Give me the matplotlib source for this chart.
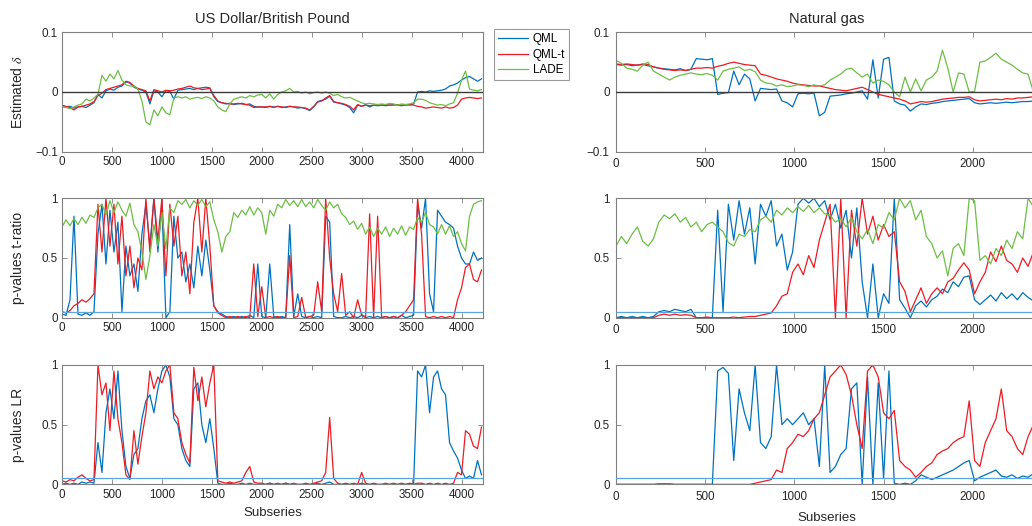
"""
Estimated delta and p-values for two subseries panels (USD/GBP and natural gas).
"""

import matplotlib

matplotlib.use("Agg")
import matplotlib.pyplot as plt
import numpy as np

plt.rcParams["font.family"] = ["Liberation Sans", "DejaVu Sans"]
plt.rcParams["mathtext.fontset"] = "stix"

# ---------------------------------------------------------------- data
# subseries index grids (values read every 40 / 30 subseries)
usd_x = np.arange(0, 4201, 40)
gas_x = np.arange(0, 2371, 30)

# US Dollar / British Pound: estimated delta
usd_delta_qml = [
    -0.022, -0.025, -0.024, -0.027, -0.025, -0.024, -0.026, -0.022, -0.018, -0.004,
    -0.01, 0.002, 0.005, 0.003, 0.008, 0.01, 0.017, 0.015, 0.008, 0.005,
    0.003, 0.0, -0.02, 0.002, 0.0, -0.008, 0.002, 0.001, -0.012, 0.003,
    0.004, 0.005, 0.006, 0.004, 0.006, 0.007, 0.008, 0.007, -0.008, -0.016,
    -0.018, -0.02, -0.019, -0.021, -0.02, -0.019, -0.021, -0.02, -0.024, -0.025,
    -0.025, -0.026, -0.024, -0.025, -0.024, -0.026, -0.025, -0.024, -0.025, -0.027,
    -0.026, -0.028, -0.031, -0.025, -0.016, -0.014, -0.012, -0.007, -0.017, -0.018,
    -0.02, -0.022, -0.026, -0.035, -0.022, -0.024, -0.021, -0.025, -0.022, -0.023,
    -0.022, -0.023, -0.022, -0.021, -0.022, -0.023, -0.021, -0.022, -0.02, 0.0,
    0.001, 0.0, 0.002, 0.001, 0.002, 0.003, 0.005, 0.01, 0.012, 0.015,
    0.02, 0.024, 0.026, 0.022, 0.018, 0.022,
]
usd_delta_qmlt = [
    -0.023, -0.024, -0.026, -0.03, -0.025, -0.024, -0.022, -0.02, -0.016, -0.006,
    -0.002, 0.004, 0.006, 0.008, 0.01, 0.012, 0.018, 0.016, 0.01, 0.006,
    0.004, 0.002, -0.015, 0.004, 0.002, 0.0, 0.003, 0.002, 0.003, 0.005,
    0.006, 0.008, 0.01, 0.007, 0.006, 0.004, 0.005, 0.006, -0.006, -0.015,
    -0.018, -0.019, -0.02, -0.02, -0.019, -0.02, -0.021, -0.022, -0.026, -0.025,
    -0.025, -0.025, -0.024, -0.026, -0.024, -0.025, -0.026, -0.024, -0.025, -0.025,
    -0.026, -0.027, -0.03, -0.024, -0.017, -0.015, -0.01, -0.006, -0.016, -0.018,
    -0.019, -0.021, -0.024, -0.03, -0.021, -0.024, -0.022, -0.023, -0.022, -0.022,
    -0.022, -0.021, -0.022, -0.022, -0.021, -0.022, -0.022, -0.021, -0.022, -0.024,
    -0.025, -0.027, -0.026, -0.025, -0.026, -0.027, -0.025, -0.027, -0.026, -0.022,
    -0.012, -0.01, -0.009, -0.01, -0.011, -0.01,
]
usd_delta_lade = [
    -0.025, -0.026, -0.028, -0.025, -0.022, -0.02, -0.012, -0.015, -0.01, -0.004,
    0.028, 0.018, 0.03, 0.022, 0.036, 0.02, 0.012, 0.01, 0.01, 0.005,
    -0.015, -0.05, -0.055, -0.03, -0.04, -0.025, -0.035, -0.038, -0.01, -0.008,
    -0.01, -0.008, -0.012, -0.01, -0.009, -0.011, -0.008, -0.01, -0.015, -0.025,
    -0.03, -0.033, -0.02, -0.012, -0.01, -0.008, -0.01, -0.006, -0.008, -0.005,
    -0.004, -0.01, -0.003, -0.012, -0.004, 0.0, 0.002, 0.006, 0.0, 0.001,
    -0.002, 0.0, -0.003, -0.001, 0.0, -0.002, 0.0, -0.002, -0.006, -0.004,
    -0.008, -0.01, -0.009, -0.012, -0.015, -0.018, -0.02, -0.019, -0.02, -0.021,
    -0.02, -0.021, -0.019, -0.02, -0.022, -0.02, -0.021, -0.02, -0.018, -0.012,
    -0.012, -0.014, -0.018, -0.02, -0.022, -0.021, -0.023, -0.02, -0.018, -0.002,
    0.02, 0.035, 0.005, 0.003, 0.002, 0.004,
]

# US Dollar / British Pound: p-values of the t-ratio
usd_pt_qml = [
    0.03, 0.02, 0.15, 0.85, 0.03, 0.02, 0.04, 0.02, 0.05, 0.7,
    0.95, 0.45, 0.9, 0.55, 0.8, 0.05, 0.6, 0.35, 0.45, 0.22,
    0.7, 0.95, 0.6, 1.0, 0.55, 0.95, 0.0, 0.05, 0.85, 0.5,
    0.55, 0.3, 0.45, 0.25, 0.6, 0.35, 0.65, 0.4, 0.1, 0.05,
    0.03, 0.01, 0.0, 0.01, 0.0, 0.01, 0.0, 0.02, 0.0, 0.45,
    0.01, 0.0, 0.45, 0.01, 0.0, 0.01, 0.0, 0.78, 0.01, 0.2,
    0.01, 0.0, 0.01, 0.0, 0.01, 0.0, 0.85, 0.8, 0.01, 0.0,
    0.0, 0.01, 0.0, 0.01, 0.0, 0.02, 0.0, 0.01, 0.0, 0.01,
    0.0, 0.01, 0.0, 0.01, 0.0, 0.02, 0.0, 0.01, 0.02, 0.95,
    0.75, 1.0, 0.2, 0.05, 0.9, 0.85, 0.8, 0.78, 0.75, 0.6,
    0.5, 0.45, 0.45, 0.55, 0.48, 0.5,
]
usd_pt_qmlt = [
    0.05, 0.04, 0.06, 0.1, 0.12, 0.15, 0.13, 0.16, 0.2, 0.95,
    0.55, 1.0, 0.6, 0.95, 0.45, 0.85, 0.35, 0.6, 0.25, 0.5,
    0.4, 1.0, 0.55, 1.0, 0.65, 1.0, 0.35, 0.95, 0.6, 0.85,
    0.35, 0.55, 0.2, 0.8, 1.0, 0.55, 1.0, 0.6, 0.1, 0.04,
    0.02, 0.0, 0.01, 0.0, 0.01, 0.0, 0.01, 0.0, 0.45, 0.01,
    0.26, 0.0, 0.01, 0.0, 0.01, 0.0, 0.0, 0.52, 0.0, 0.01,
    0.17, 0.0, 0.01, 0.02, 0.3, 0.05, 1.0, 0.5, 0.2, 0.05,
    0.37, 0.02, 0.05, 0.0, 0.15, 0.02, 0.01, 0.87, 0.0, 0.85,
    0.0, 0.01, 0.0, 0.01, 0.0, 0.02, 0.05, 0.1, 0.15, 1.0,
    0.7, 0.01, 0.0, 0.01, 0.0, 0.01, 0.0, 0.01, 0.0, 0.15,
    0.25, 0.42, 0.45, 0.32, 0.3, 0.4,
]
usd_pt_lade = [
    0.76, 0.82, 0.77, 0.83, 0.78, 0.84, 0.79, 0.86, 0.84, 0.92,
    0.95, 0.86, 0.98, 0.88, 0.97, 0.9, 0.85, 0.96, 0.78, 0.72,
    0.55, 0.32, 0.52, 0.78, 0.6, 0.88, 0.58, 0.92, 0.88, 0.98,
    0.95, 0.99, 0.92, 0.98, 0.94, 0.99, 0.93, 0.97, 0.82, 0.72,
    0.55, 0.68, 0.72, 0.88, 0.84, 0.9, 0.86, 0.93, 0.86, 0.92,
    0.88, 0.7, 0.9, 0.85, 0.95, 0.92, 0.99, 0.94, 0.98, 0.93,
    0.99, 0.93, 0.97, 0.92, 0.99, 0.94, 0.9, 0.97, 0.92, 0.95,
    0.87, 0.84, 0.78, 0.81, 0.74, 0.79, 0.7, 0.76, 0.68, 0.75,
    0.7, 0.76, 0.68, 0.75, 0.7, 0.77, 0.69, 0.76, 0.74, 0.84,
    0.8, 0.88, 0.78, 0.76, 0.7, 0.78, 0.7, 0.77, 0.68, 0.72,
    0.62, 0.56, 0.85, 0.95, 0.97, 0.98,
]

# US Dollar / British Pound: p-values of the LR test
usd_lr_qml = [
    0.0, 0.01, 0.0, 0.01, 0.0, 0.02, 0.01, 0.02, 0.01, 0.35,
    0.1, 0.6, 0.8, 0.55, 0.95, 0.45, 0.15, 0.05, 0.25, 0.3,
    0.55, 0.7, 0.75, 0.6, 0.8, 0.95, 1.0, 0.9, 0.55, 0.5,
    0.3, 0.2, 0.15, 0.8, 0.85, 0.5, 0.35, 0.55, 0.3, 0.01,
    0.0, 0.0, 0.01, 0.0, 0.0, 0.01, 0.0, 0.01, 0.0, 0.0,
    0.0, 0.0, 0.01, 0.0, 0.0, 0.0, 0.01, 0.0, 0.0, 0.0,
    0.0, 0.0, 0.0, 0.0, 0.01, 0.0, 0.01, 0.02, 0.0, 0.0,
    0.0, 0.0, 0.0, 0.0, 0.0, 0.01, 0.0, 0.0, 0.0, 0.0,
    0.0, 0.0, 0.0, 0.0, 0.0, 0.0, 0.0, 0.0, 0.0, 0.95,
    0.9, 1.0, 0.6, 0.9, 0.95, 0.8, 0.75, 0.35, 0.28, 0.22,
    0.12, 0.05, 0.07, 0.05, 0.2, 0.08,
]
usd_lr_qmlt = [
    0.03, 0.02, 0.04, 0.03, 0.06, 0.08, 0.05, 0.03, 0.04, 1.0,
    0.75, 0.85, 0.45, 0.95, 0.55, 0.35, 0.08, 0.04, 0.45, 0.17,
    0.4, 0.6, 0.95, 0.8, 0.9, 0.85, 0.95, 1.0, 0.6, 0.55,
    0.35, 0.25, 0.18, 0.98, 0.7, 0.9, 0.65, 0.85, 1.0, 0.03,
    0.02, 0.01, 0.02, 0.01, 0.02, 0.03, 0.1, 0.15, 0.02, 0.01,
    0.01, 0.0, 0.01, 0.0, 0.01, 0.0, 0.01, 0.0, 0.01, 0.0,
    0.0, 0.01, 0.0, 0.01, 0.02, 0.03, 0.1, 0.56, 0.05, 0.01,
    0.0, 0.01, 0.0, 0.01, 0.0, 0.1, 0.01, 0.0, 0.01, 0.0,
    0.0, 0.01, 0.0, 0.01, 0.0, 0.01, 0.0, 0.01, 0.0, 0.01,
    0.01, 0.0, 0.01, 0.0, 0.01, 0.0, 0.01, 0.0, 0.01, 0.1,
    0.08, 0.45, 0.42, 0.32, 0.3, 0.48,
]

# Natural gas: estimated delta
gas_delta_qml = [
    0.046, 0.045, 0.046, 0.044, 0.045, 0.046, 0.044, 0.042, 0.04, 0.039,
    0.038, 0.037, 0.039, 0.036, 0.038, 0.056, 0.055, 0.054, 0.056, -0.004,
    -0.002, -0.001, 0.035, 0.012, 0.03, 0.022, -0.015, 0.006, 0.005, 0.004,
    0.005, -0.015, -0.018, -0.025, -0.003, -0.002, -0.003, -0.002, -0.04, -0.034,
    -0.007, -0.006, -0.005, -0.003, -0.002, 0.0, 0.002, -0.012, 0.054, -0.01,
    0.055, 0.058, -0.015, -0.02, -0.022, -0.032, -0.025, -0.02, -0.021, -0.019,
    -0.018, -0.016, -0.015, -0.014, -0.013, -0.012, -0.011, -0.018, -0.02, -0.019,
    -0.018, -0.019, -0.018, -0.017, -0.018, -0.017, -0.016, -0.016, -0.015, -0.015,
]
gas_delta_qmlt = [
    0.047, 0.046, 0.047, 0.046, 0.045, 0.047, 0.046, 0.042, 0.04, 0.038,
    0.037, 0.036, 0.037, 0.036, 0.038, 0.04, 0.04, 0.041, 0.04, 0.043,
    0.045, 0.048, 0.05, 0.048, 0.046, 0.045, 0.044, 0.03, 0.028, 0.025,
    0.022, 0.02, 0.018, 0.015, 0.013, 0.012, 0.011, 0.01, 0.01, 0.008,
    0.006, 0.004, 0.003, 0.002, 0.004, 0.006, 0.008, 0.004, 0.0, -0.004,
    -0.006, -0.008, -0.01, -0.012, -0.015, -0.02, -0.018, -0.016, -0.017, -0.016,
    -0.014, -0.012, -0.011, -0.01, -0.009, -0.009, -0.008, -0.013, -0.015, -0.014,
    -0.013, -0.012, -0.013, -0.011, -0.012, -0.01, -0.01, -0.009, -0.008, -0.008,
]
gas_delta_lade = [
    0.053, 0.048, 0.04, 0.038, 0.035, 0.045, 0.05, 0.035, 0.03, 0.025,
    0.02, 0.025, 0.028, 0.03, 0.032, 0.03, 0.029, 0.031, 0.028, 0.02,
    0.035, 0.038, 0.04, 0.042, 0.036, 0.038, 0.034, 0.02, 0.015, 0.014,
    0.01, 0.012, 0.009, 0.01, 0.012, 0.011, 0.009, 0.012, 0.01, 0.012,
    0.02, 0.025, 0.03, 0.038, 0.04, 0.032, 0.025, 0.03, 0.015, 0.02,
    0.018, 0.012, 0.0, -0.008, 0.025, 0.0, 0.022, 0.002, 0.02, 0.025,
    0.035, 0.07, 0.04, 0.0, 0.032, 0.03, 0.0, 0.001, 0.05, 0.052,
    0.058, 0.065, 0.055, 0.05, 0.045, 0.038, 0.032, 0.03, 0.0, 0.005,
]

# Natural gas: p-values of the t-ratio
gas_pt_qml = [
    0.0, 0.01, 0.0, 0.01, 0.0, 0.01, 0.0, 0.01, 0.05, 0.06,
    0.05, 0.07, 0.06, 0.05, 0.07, 0.0, 0.0, 0.0, 0.0, 0.9,
    0.05, 0.95, 0.65, 0.98, 0.7, 0.92, 0.45, 0.95, 0.85, 0.98,
    0.6, 0.7, 0.4, 0.55, 0.95, 1.0, 0.96, 1.0, 0.93, 0.98,
    0.82, 0.95, 0.75, 0.9, 0.5, 0.92, 0.3, 0.0, 0.45, 0.0,
    0.2, 0.12, 1.0, 0.15, 0.08, 0.0, 0.1, 0.14, 0.09, 0.15,
    0.18, 0.24, 0.21, 0.3, 0.26, 0.34, 0.35, 0.15, 0.11, 0.15,
    0.19, 0.14, 0.21, 0.16, 0.2, 0.15, 0.21, 0.17, 0.14, 0.17,
]
gas_pt_qmlt = [
    0.0, 0.0, 0.0, 0.0, 0.0, 0.0, 0.0, 0.0, 0.02, 0.03,
    0.02, 0.03, 0.02, 0.025, 0.02, 0.0, 0.0, 0.005, 0.0, 0.0,
    0.0, 0.0, 0.005, 0.0, 0.005, 0.01, 0.01, 0.02, 0.03, 0.04,
    0.1, 0.18, 0.2, 0.38, 0.45, 0.36, 0.52, 0.42, 0.65, 0.8,
    0.95, 0.0, 1.0, 0.0, 0.9, 0.6, 1.0, 0.7, 0.85, 0.65,
    0.78, 0.68, 0.72, 0.3, 0.22, 0.05, 0.15, 0.25, 0.12, 0.2,
    0.25, 0.2, 0.3, 0.33, 0.4, 0.46, 0.4, 0.2, 0.3, 0.38,
    0.55, 0.47, 0.6, 0.48, 0.45, 0.38, 0.5, 0.43, 0.55, 0.4,
]
gas_pt_lade = [
    0.6, 0.68, 0.62, 0.7, 0.76, 0.64, 0.6, 0.66, 0.8, 0.86,
    0.83, 0.87, 0.8, 0.84, 0.76, 0.8, 0.72, 0.78, 0.8, 0.76,
    0.72, 0.63, 0.6, 0.7, 0.68, 0.74, 0.72, 0.82, 0.85, 0.8,
    0.9, 0.86, 0.92, 0.88, 0.93, 0.89, 0.94, 0.88, 0.92, 0.87,
    0.86, 0.8, 0.83, 0.76, 0.84, 0.72, 0.66, 0.74, 0.62, 0.78,
    0.75, 0.88, 0.82, 1.0, 0.92, 0.98, 0.82, 0.9, 0.68, 0.62,
    0.5, 0.56, 0.35, 0.58, 0.62, 0.52, 1.0, 0.98, 0.48, 0.52,
    0.45, 0.58, 0.52, 0.65, 0.58, 0.72, 0.66, 1.0, 0.93, 0.95,
]

# Natural gas: p-values of the LR test
gas_lr_qml = [
    0.0, 0.0, 0.0, 0.0, 0.0, 0.0, 0.0, 0.0, 0.0, 0.0,
    0.0, 0.0, 0.0, 0.0, 0.0, 0.0, 0.0, 0.0, 0.0, 0.95,
    0.98, 0.93, 0.2, 0.8, 0.6, 0.45, 1.0, 0.35, 0.3, 0.4,
    1.0, 0.5, 0.55, 0.5, 0.55, 0.6, 0.5, 0.55, 0.15, 1.0,
    0.1, 0.15, 0.25, 0.3, 0.8, 0.85, 0.0, 0.9, 0.0, 0.85,
    0.05, 0.95, 0.01, 0.0, 0.01, 0.0, 0.03, 0.08, 0.06, 0.04,
    0.06, 0.08, 0.1, 0.12, 0.15, 0.18, 0.2, 0.03, 0.06, 0.08,
    0.1, 0.12, 0.07, 0.06, 0.08, 0.05, 0.07, 0.06, 0.09, 0.08,
]
gas_lr_qmlt = [
    0.0, 0.0, 0.0, 0.0, 0.0, 0.0, 0.0, 0.0, 0.005, 0.005,
    0.005, 0.0, 0.0, 0.0, 0.0, 0.0, 0.0, 0.0, 0.0, 0.0,
    0.0, 0.0, 0.0, 0.0, 0.0, 0.0, 0.01, 0.02, 0.03, 0.04,
    0.12, 0.1, 0.3, 0.35, 0.42, 0.4, 0.45, 0.55, 0.6, 0.75,
    0.9, 0.95, 1.0, 0.92, 0.75, 0.5, 0.3, 0.95, 1.0, 0.9,
    0.6, 0.55, 0.62, 0.2, 0.15, 0.12, 0.06, 0.1, 0.15, 0.18,
    0.25, 0.28, 0.3, 0.35, 0.38, 0.4, 0.7, 0.2, 0.15, 0.35,
    0.45, 0.55, 0.8, 0.45, 0.4, 0.3, 0.25, 0.4, 0.5, 0.4,
]

# ---------------------------------------------------------------- style
C_QML = "#0072BD"
C_QMLT = "#EC1C24"
C_LADE = "#6DBE45"
C_AXIS = "#808080"
C_TEXT = "#262626"

W, H = 1032, 526


def frac(left, top, width, height):
    """Pixel box (from top-left) to figure fraction rect."""
    return [left / W, 1 - (top + height) / H, width / W, height / H]


def style_axes(ax, xmax, xticks, ylim, yticks, ylabels, pad):
    ax.set_xlim(0, xmax)
    ax.set_ylim(*ylim)
    ax.set_xticks(xticks)
    ax.set_xticklabels([str(t) for t in xticks])
    ax.set_yticks(yticks)
    ax.set_yticklabels(ylabels)
    ax.tick_params(direction="in", top=True, right=True, length=3.5,
                   width=0.6, color=C_AXIS, labelsize=8.4,
                   labelcolor=C_TEXT, pad=pad)
    for s in ax.spines.values():
        s.set_color(C_AXIS)
        s.set_linewidth(0.8)


fig = plt.figure(figsize=(W / 100, H / 100), dpi=100)

col_left = {"x0": 62, "xmax": 4215, "xticks": list(range(0, 4001, 500)), "pad": 3}
col_right = {"x0": 616, "xmax": 2360, "xticks": list(range(0, 2001, 500)), "pad": 4.5}
col_w = 421
row_tops = [32.3, 198.3, 365]
row_h = 119.4

columns = [
    (col_left, usd_x, "US Dollar/British Pound",
     [(usd_delta_qml, usd_delta_qmlt, usd_delta_lade),
      (usd_pt_qml, usd_pt_qmlt, usd_pt_lade),
      (usd_lr_qml, usd_lr_qmlt, None)]),
    (col_right, gas_x, "Natural gas",
     [(gas_delta_qml, gas_delta_qmlt, gas_delta_lade),
      (gas_pt_qml, gas_pt_qmlt, gas_pt_lade),
      (gas_lr_qml, gas_lr_qmlt, None)]),
]

ylabels = [r"Estimated $\delta$", "p-values t-ratio", "p-values LR"]
legend_lines = None

for ci, (col, xs, title, panels) in enumerate(columns):
    for ri, (qml, qmlt, lade) in enumerate(panels):
        ax = fig.add_axes(frac(col["x0"], row_tops[ri], col_w, row_h))
        l1, = ax.plot(xs, qml, color=C_QML, linewidth=0.9, label="QML")
        l2, = ax.plot(xs, qmlt, color=C_QMLT, linewidth=0.9, label="QML-t")
        l3 = None
        if lade is not None:
            l3, = ax.plot(xs, lade, color=C_LADE, linewidth=0.9, label="LADE")

        if ri == 0:
            ax.axhline(0, color="#3c3c3c", linewidth=1.0, zorder=5)
            style_axes(ax, col["xmax"], col["xticks"], (-0.1, 0.1),
                       [-0.1, 0, 0.1], ["\u22120.1", "0", "0.1"], col["pad"])
            ax.set_title(title, fontsize=10.5, color=C_TEXT, pad=7)
        else:
            ax.axhline(0.05, color="#5AA5DD", linewidth=0.9, zorder=5)
            style_axes(ax, col["xmax"], col["xticks"], (0, 1),
                       [0, 0.5, 1], ["0", "0.5", "1"], col["pad"])

        if ci == 0:
            ax.set_ylabel(ylabels[ri], fontsize=10, color=C_TEXT)
            ax.yaxis.set_label_coords(-0.088, 0.5)
            if ri == 0:
                legend_lines = [l1, l2, l3]

        if ri == 2:
            ax.set_xlabel("Subseries", fontsize=9.5, color=C_TEXT)
            ax.xaxis.set_label_coords(0.5, -0.19 if ci == 0 else -0.23)

leg = fig.legend(legend_lines, ["QML", "QML-t", "LADE"],
                 loc="upper left", bbox_to_anchor=(494 / W, 1 - 29 / H),
                 fontsize=8.4, frameon=True, fancybox=False,
                 handlelength=2.6, handletextpad=0.35, labelspacing=0.3,
                 borderpad=0.35, borderaxespad=0)
leg.get_frame().set_edgecolor(C_AXIS)
leg.get_frame().set_linewidth(0.8)

fig.savefig("out.png", dpi=100)
